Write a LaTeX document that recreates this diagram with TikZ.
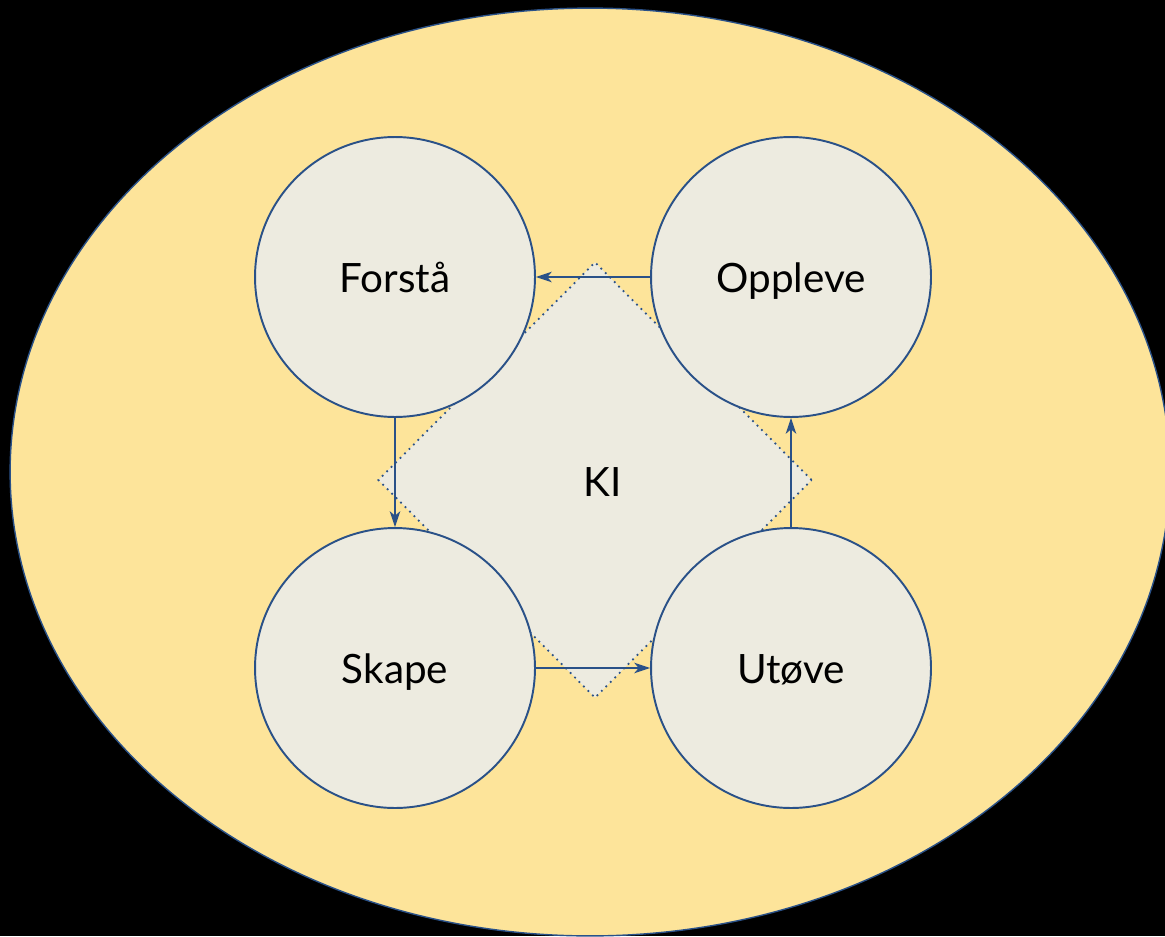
\documentclass[tikz,border=0pt]{standalone}
\usepackage{fontspec}
\setmainfont{Lato}
\usepackage{tikz}
\usetikzlibrary{arrows.meta,shapes.geometric}
\definecolor{kiyellow}{HTML}{FDE49A}
\definecolor{kigray}{HTML}{EDEBE0}
\definecolor{kiblue}{HTML}{2A5188}
\tikzset{
  word/.style={font=\fontsize{23}{28}\selectfont, text height=0.6cm, text depth=0cm},
  stage/.style={circle, draw=kiblue, fill=kigray, line width=1.1pt, minimum size=5.6cm, inner sep=0pt, word},
  flow/.style={kiblue, line width=1pt, -{Stealth[length=9pt,width=6pt,inset=2.5pt]}},
}
\begin{document}
\begin{tikzpicture}[x=0.02cm, y=-0.02cm]
%%%%% Background %%%%%
\fill[black] (0,0) rectangle (1165,936);
\clip (0,0) rectangle (1165,936);
\draw[kiblue, fill=kiyellow, line width=0.8pt] (590,472) ellipse [x radius=11.6cm, y radius=9.28cm];
%%%%% KI %%%%%
\node[diamond, draw=kiblue, fill=kigray, line width=1pt, dash pattern=on 1pt off 2.6pt, minimum width=8.68cm, minimum height=8.72cm, inner sep=0pt] (kibox) at (595,480) {};
\node[word] (ki) at (603,481) {KI};
%%%%% Stages %%%%%
\node[stage] (forsta) at (395,277) {Forstå};
\node[stage] (oppleve) at (791,277) {Oppleve};
\node[stage] (skape) at (395,668) {Skape};
\node[stage] (utove) at (791,668) {Utøve};
\draw[flow] (oppleve.west)--(forsta.east);
\draw[flow] (forsta.south)--(skape.north);
\draw[flow] (skape.east)--(utove.west);
\draw[flow] (utove.north)--(oppleve.south);
\end{tikzpicture}
\end{document}
